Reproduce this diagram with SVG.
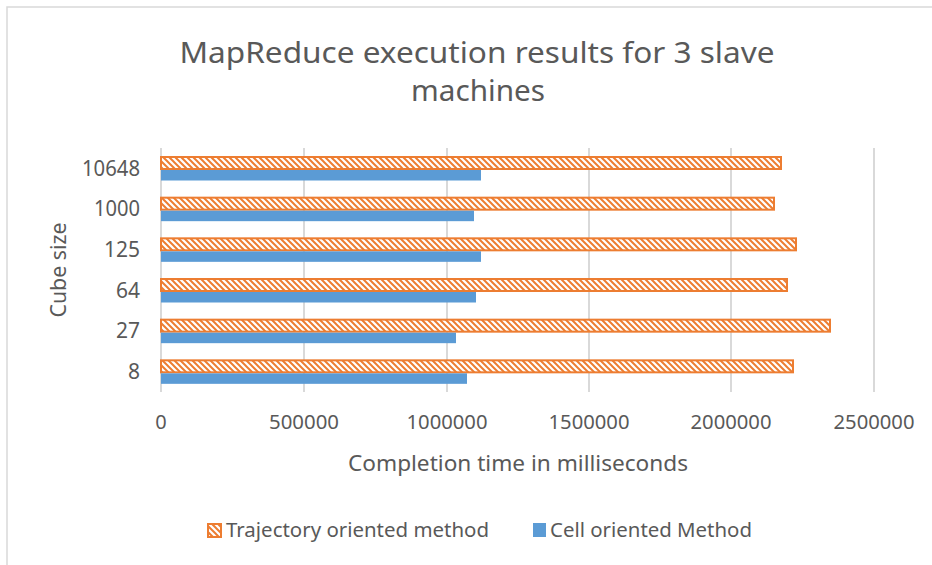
<svg xmlns="http://www.w3.org/2000/svg" width="932" height="565" viewBox="0 0 932 565">
<style>
text{font-family:"Noto Sans","Open Sans","Liberation Sans",sans-serif;fill:#595959}
.grid{stroke:#d9d9d9;stroke-width:2}
.tr{fill:url(#hatch);stroke:#ed7d31;stroke-width:2}
.cell{fill:#5b9bd5}
.yl{font-size:21px;text-anchor:end}
.xl{font-size:20px;text-anchor:middle}
</style>
<defs>
<pattern id="hatch" patternUnits="userSpaceOnUse" width="6" height="6">
<rect width="6" height="6" fill="#fff"/>
<path d="M0,0 L6,6 M-1,5 L1,7 M5,-1 L7,1" stroke="#ed7d31" stroke-width="2"/>
</pattern>
</defs>
<rect x="0" y="0" width="932" height="565" fill="#fff"/>
<rect x="7" y="7" width="940" height="580" fill="none" stroke="#d9d9d9" stroke-width="1.5"/>
<g id="title">
<text x="477" y="63" font-size="29" text-anchor="middle" textLength="595" lengthAdjust="spacingAndGlyphs">MapReduce execution results for 3 slave</text>
<text x="478" y="101" font-size="29" text-anchor="middle" textLength="134" lengthAdjust="spacingAndGlyphs">machines</text>
</g>
<g id="gridlines">
<line class="grid" x1="161" y1="148" x2="161" y2="392"/>
<line class="grid" x1="304" y1="148" x2="304" y2="392"/>
<line class="grid" x1="447" y1="148" x2="447" y2="392"/>
<line class="grid" x1="589" y1="148" x2="589" y2="392"/>
<line class="grid" x1="731" y1="148" x2="731" y2="392"/>
<line class="grid" x1="874" y1="148" x2="874" y2="392"/>
</g>
<g id="bars-trajectory">
<rect class="tr" x="161" y="157" width="620" height="12"/>
<rect class="tr" x="161" y="197.67" width="613" height="12"/>
<rect class="tr" x="161" y="238.33" width="635" height="12"/>
<rect class="tr" x="161" y="279" width="626" height="12"/>
<rect class="tr" x="161" y="319.67" width="669" height="12"/>
<rect class="tr" x="161" y="360.33" width="632" height="12"/>
</g>
<g id="bars-cell">
<rect class="cell" x="161" y="170" width="320" height="10.5"/>
<rect class="cell" x="161" y="210.67" width="313" height="10.5"/>
<rect class="cell" x="161" y="251.33" width="320" height="10.5"/>
<rect class="cell" x="161" y="292" width="315" height="10.5"/>
<rect class="cell" x="161" y="332.67" width="295" height="10.5"/>
<rect class="cell" x="161" y="373.33" width="306" height="10.5"/>
</g>
<g id="y-axis">
<text class="yl" x="140" y="175.5" textLength="58" lengthAdjust="spacingAndGlyphs">10648</text>
<text class="yl" x="140" y="216.2" textLength="46" lengthAdjust="spacingAndGlyphs">1000</text>
<text class="yl" x="140" y="256.8">125</text>
<text class="yl" x="140" y="297.5">64</text>
<text class="yl" x="140" y="338.2">27</text>
<text class="yl" x="140" y="378.8">8</text>
<text x="58" y="270" font-size="21" text-anchor="middle" transform="rotate(-90 58 270)" dominant-baseline="central" textLength="95" lengthAdjust="spacingAndGlyphs">Cube size</text>
</g>
<g id="x-axis">
<text class="xl" x="161" y="429">0</text>
<text class="xl" x="304" y="429" textLength="70" lengthAdjust="spacingAndGlyphs">500000</text>
<text class="xl" x="447" y="429" textLength="81" lengthAdjust="spacingAndGlyphs">1000000</text>
<text class="xl" x="589" y="429" textLength="81" lengthAdjust="spacingAndGlyphs">1500000</text>
<text class="xl" x="731" y="429" textLength="81" lengthAdjust="spacingAndGlyphs">2000000</text>
<text class="xl" x="874" y="429" textLength="81" lengthAdjust="spacingAndGlyphs">2500000</text>
<text x="518" y="471" font-size="21" text-anchor="middle" textLength="340" lengthAdjust="spacingAndGlyphs">Completion time in milliseconds</text>
</g>
<g id="legend">
<rect x="208" y="524" width="13" height="13" fill="url(#hatch)" stroke="#ed7d31" stroke-width="2"/>
<text x="226" y="537" font-size="19" textLength="263" lengthAdjust="spacingAndGlyphs">Trajectory oriented method</text>
<rect x="533" y="523" width="13" height="14" fill="#5b9bd5"/>
<text x="550" y="537" font-size="19" textLength="202" lengthAdjust="spacingAndGlyphs">Cell oriented Method</text>
</g>
</svg>
